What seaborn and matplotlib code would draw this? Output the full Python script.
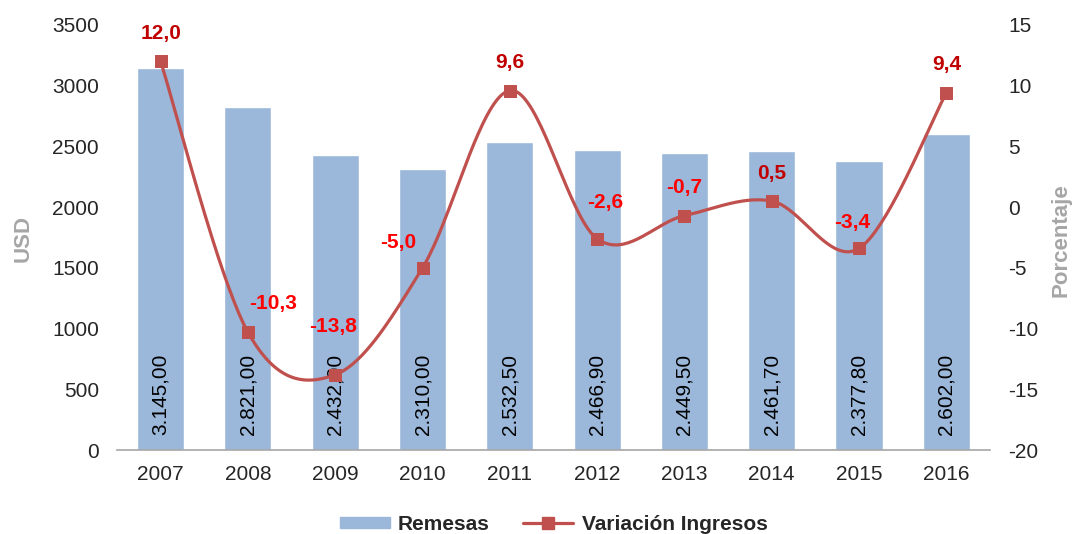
import numpy as np
import pandas as pd
import matplotlib
matplotlib.use("Agg")
import matplotlib.pyplot as plt
import seaborn as sns
from matplotlib.lines import Line2D
from matplotlib.patches import Patch

years = ["2007", "2008", "2009", "2010", "2011", "2012", "2013", "2014", "2015", "2016"]
remesas = [3145.00, 2821.00, 2432.00, 2310.00, 2532.50, 2466.90, 2449.50, 2461.70, 2377.80, 2602.00]
variacion = [12.0, -10.3, -13.8, -5.0, 9.6, -2.6, -0.7, 0.5, -3.4, 9.4]
bar_labels = ["3.145,00", "2.821,00", "2.432,00", "2.310,00", "2.532,50",
              "2.466,90", "2.449,50", "2.461,70", "2.377,80", "2.602,00"]
var_labels = ["12,0", "-10,3", "-13,8", "-5,0", "9,6", "-2,6", "-0,7", "0,5", "-3,4", "9,4"]
# label offsets in pixels (dx, dy) relative to the marker
label_off = [(0, 28), (25, 29), (-2, 48), (-24, 25), (0, 28),
             (8, 36), (0, 28), (0, 28), (-7, 26), (0, 28)]

sns.set_style("white")
plt.rcParams['font.family'] = ['Liberation Sans', 'DejaVu Sans']
plt.rcParams['axes.unicode_minus'] = False

df = pd.DataFrame({"year": years, "remesas": remesas, "variacion": variacion})

fig = plt.figure(figsize=(10.75, 5.34), dpi=100)
ax = fig.add_axes([0.1088, 0.1573, 0.8121, 0.7959])

bar_col = "#9BB7DA"
line_col = "#C0504D"

sns.barplot(data=df, x="year", y="remesas", color=bar_col, width=0.54,
            saturation=1, ax=ax)
ax.set_ylim(0, 3500)
ax.set_xlim(-0.5, 9.5)
ax.set_yticks(range(0, 3501, 500))
ax.set_xlabel("")
ax.set_ylabel("")
ax.tick_params(axis="both", length=0, labelsize=15, colors="#262626")
ax.tick_params(axis="y", pad=13)
ax.tick_params(axis="x", pad=11)
for s in ["top", "right", "left"]:
    ax.spines[s].set_visible(False)
ax.spines["bottom"].set_color("#A6A6A6")
ax.spines["bottom"].set_linewidth(1.2)

for i, lab in enumerate(bar_labels):
    ax.text(i, 460, lab, rotation=90, ha="center", va="center",
            fontsize=15, color="black")

ax2 = ax.twinx()
ax2.set_ylim(-20, 15)
ax2.set_yticks(range(-20, 16, 5))
ax2.tick_params(axis="y", length=0, labelsize=15, colors="#262626", pad=13)
for s in ["top", "right", "left", "bottom"]:
    ax2.spines[s].set_visible(False)

# axis titles
fig.text(23 / 1075, 1 - 238 / 534, "USD", rotation=90, ha="center", va="center",
         fontsize=16, fontweight="bold", color="#A6A6A6")
fig.text(1061 / 1075, 1 - 240 / 534, "Porcentaje", rotation=90, ha="center", va="center",
         fontsize=16, fontweight="bold", color="#A6A6A6")

# smoothed line (Catmull-Rom bezier, as in spreadsheet smoothing)
xs = np.arange(len(variacion), dtype=float)
ys = np.array(variacion, dtype=float)
px = np.concatenate([[xs[0]], xs, [xs[-1]]])
py = np.concatenate([[ys[0]], ys, [ys[-1]]])
t = np.linspace(0, 1, 40)[:, None]
cx, cy = [], []
for k in range(1, len(px) - 2):
    p0 = np.array([px[k], py[k]])
    p3 = np.array([px[k + 1], py[k + 1]])
    c1 = p0 + (p3 - np.array([px[k - 1], py[k - 1]])) / 6
    c2 = p3 - (np.array([px[k + 2], py[k + 2]]) - p0) / 6
    b = (1 - t) ** 3 * p0 + 3 * (1 - t) ** 2 * t * c1 + 3 * (1 - t) * t ** 2 * c2 + t ** 3 * p3
    cx.extend(b[:, 0])
    cy.extend(b[:, 1])
ax2.plot(cx, cy, color=line_col, lw=2.3, solid_capstyle="round", zorder=3)
sns.scatterplot(x=xs, y=ys, marker="s", s=80, color=line_col, edgecolor=line_col,
                ax=ax2, zorder=4, legend=False)

for i, (v, lab) in enumerate(zip(variacion, var_labels)):
    dx, dy = label_off[i]
    c = "#C00000" if v > 0 else "#FF0000"
    ax2.annotate(lab, (i, v), xytext=(dx * 0.72, dy * 0.72), textcoords="offset points",
                 ha="center", va="center", fontsize=15, fontweight="bold", color=c)

handles = [Patch(facecolor=bar_col, edgecolor=bar_col),
           Line2D([0], [0], color=line_col, lw=2.3, marker="s", markersize=9)]
fig.legend(handles, ["Remesas", "Variación Ingresos"], loc="lower center",
           bbox_to_anchor=(0.515, -0.035), ncol=2, frameon=False,
           prop={"size": 15, "weight": "bold"}, handlelength=2.4,
           handleheight=0.5, columnspacing=1.6, handletextpad=0.4)

fig.savefig("out.png", dpi=100)
